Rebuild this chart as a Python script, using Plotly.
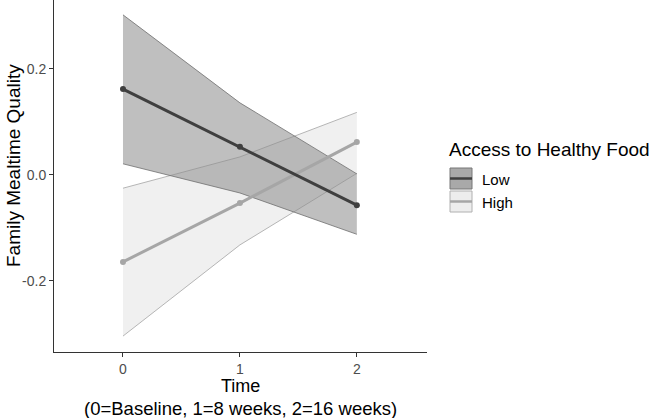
import plotly.graph_objects as go

time = [0, 1, 2]
low_mean = [0.162, 0.053, -0.057]
low_upper = [0.302, 0.136, 0.002]
low_lower = [0.021, -0.034, -0.112]
high_mean = [-0.164, -0.053, 0.062]
high_upper = [-0.025, 0.034, 0.118]
high_lower = [-0.304, -0.132, 0.003]

legend_title = "Access to Healthy Food"
groups = ["Low", "High"]
x_title_lines = ["Time", "(0=Baseline, 1=8 weeks, 2=16 weeks)"]
y_title = "Family Mealtime Quality"

fig = go.Figure()

def band(upper, lower, fill, edge):
    fig.add_trace(go.Scatter(x=time + time[::-1], y=upper + lower[::-1], fill="toself",
                             fillcolor=fill, mode="none", showlegend=False, hoverinfo="skip"))
    fig.add_trace(go.Scatter(x=time, y=upper, mode="lines", line=dict(color=edge, width=0.8),
                             showlegend=False, hoverinfo="skip"))
    fig.add_trace(go.Scatter(x=time, y=lower, mode="lines", line=dict(color=edge, width=0.8),
                             showlegend=False, hoverinfo="skip"))

band(high_upper, high_lower, "rgba(237,237,237,0.85)", "#a3a3a3")
band(low_upper, low_lower, "rgba(140,140,140,0.56)", "#6e6e6e")

fig.add_trace(go.Scatter(x=time, y=high_mean, mode="lines+markers", name=groups[1],
                         line=dict(color="#a6a6a6", width=3), marker=dict(size=6, color="#a6a6a6"),
                         showlegend=False))
fig.add_trace(go.Scatter(x=time, y=low_mean, mode="lines+markers", name=groups[0],
                         line=dict(color="#3f3f3f", width=3), marker=dict(size=6, color="#3f3f3f"),
                         showlegend=False))

# plot area on screen: x 54..427, y 0..352
def px(x): return (x - 54) / 373.0
def py(y): return (352 - y) / 352.0

shapes = []
annotations = []
annotations.append(dict(x=px(448), y=py(149.5), xref="paper", yref="paper", text=legend_title,
                        showarrow=False, xanchor="left", yanchor="middle", borderpad=0,
                        font=dict(size=19, color="#000000")))
keys = [(168, "rgba(140,140,140,0.75)", "#3f3f3f", "#777777", 179.5),
        (191, "rgba(237,237,237,1)", "#a6a6a6", "#b0b0b0", 202.5)]
for (top, fill, line, edge, ty), g in zip(keys, groups):
    shapes.append(dict(type="rect", xref="paper", yref="paper", x0=px(450), x1=px(472),
                       y0=py(top + 21), y1=py(top), fillcolor=fill, line=dict(color=edge, width=1)))
    shapes.append(dict(type="line", xref="paper", yref="paper", x0=px(450), x1=px(472),
                       y0=py(top + 10.5), y1=py(top + 10.5), line=dict(color=line, width=2.5)))
    annotations.append(dict(x=px(481), y=py(ty), xref="paper", yref="paper", text=g,
                            showarrow=False, xanchor="left", yanchor="middle", borderpad=0,
                            font=dict(size=15, color="#000000")))

# axis titles
annotations.append(dict(x=px(240.5), y=py(397), xref="paper", yref="paper", text=x_title_lines[0],
                        showarrow=False, xanchor="center", yanchor="bottom", borderpad=0,
                        font=dict(size=18, color="#000000")))
annotations.append(dict(x=px(240.5), y=py(397), xref="paper", yref="paper", text=x_title_lines[1],
                        showarrow=False, xanchor="center", yanchor="top", borderpad=0,
                        font=dict(size=18.5, color="#000000")))
annotations.append(dict(x=px(13), y=py(166), xref="paper", yref="paper", text=y_title,
                        showarrow=False, xanchor="center", yanchor="middle", textangle=-90,
                        borderpad=0, font=dict(size=19, color="#000000")))

fig.update_layout(
    width=653, height=418,
    margin=dict(l=54, r=226, t=0, b=66, autoexpand=False),
    paper_bgcolor="white", plot_bgcolor="white",
    font=dict(family="Liberation Sans, Arial, sans-serif"),
    shapes=shapes, annotations=annotations,
    showlegend=False, hovermode=False,
)
fig.update_xaxes(range=[-0.59, 2.6], tickvals=time, ticktext=["0", "1", "2"], automargin=False,
                 showgrid=False, zeroline=False, showline=True, linecolor="#333333", linewidth=1,
                 ticks="outside", ticklen=4, tickcolor="#333333",
                 tickfont=dict(size=14, color="#4d4d4d"))
fig.update_yaxes(range=[-0.334, 0.33], tickvals=[-0.2, 0.0, 0.2], ticktext=["-0.2", "0.0", "0.2"],
                 automargin=False,
                 showgrid=False, zeroline=False, showline=True, linecolor="#333333", linewidth=1,
                 ticks="outside", ticklen=4, tickcolor="#333333",
                 tickfont=dict(size=14, color="#4d4d4d"))

fig.write_html("out.html", config={"displayModeBar": False},
               post_script="document.body.style.margin='0px';")
